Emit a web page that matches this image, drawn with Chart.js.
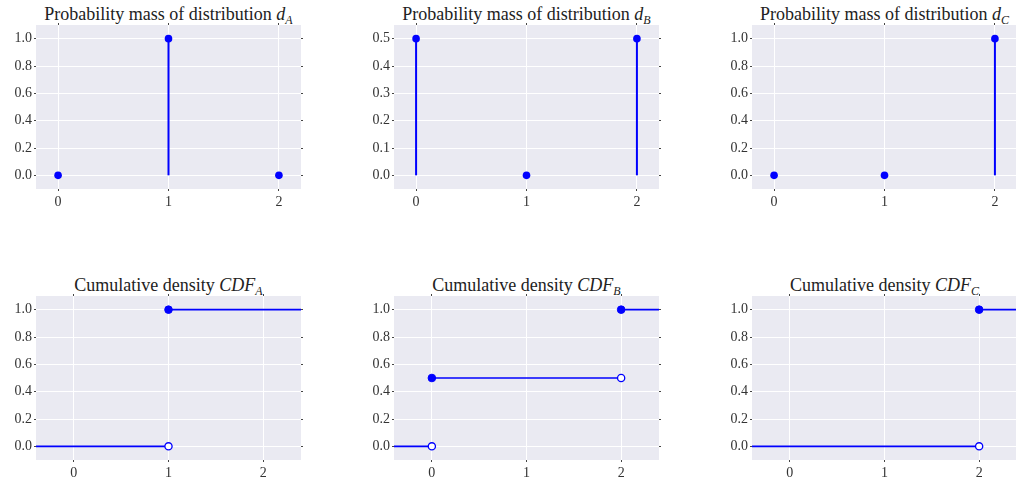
<!DOCTYPE html>
<html>
<head>
<meta charset="utf-8">
<script src="https://cdn.jsdelivr.net/npm/chart.js@4.4.1/dist/chart.umd.min.js"></script>
<style>
  html, body { margin: 0; padding: 0; background: #fff; overflow: hidden; }
  #page { position: relative; width: 1016px; height: 481px; }
  canvas { position: absolute; }
  .title {
    position: absolute; text-align: center; white-space: nowrap;
    font-family: 'Liberation Serif', serif; font-size: 18px; line-height: 20px; color: #222;
  }
  .title .m { font-style: italic; }
  .title sub { font-style: italic; font-size: 12px; vertical-align: -4px; line-height: 0; }
</style>
</head>
<body>
<div id="page"></div>
<script>
// --- dati ---
const outcomes = [0, 1, 2];
const distNames = ['A', 'B', 'C'];

const pmfA = [0, 1, 0];
const pmfB = [0.5, 0, 0.5];
const pmfC = [0, 0, 1];

const cdfA = [0, 1, 1];
const cdfB = [0.5, 0.5, 1];
const cdfC = [0, 0, 1];

const pmfTicksAC = [0, 0.2, 0.4, 0.6, 0.8, 1.0];
const pmfTicksB = [0, 0.1, 0.2, 0.3, 0.4, 0.5];
const cdfTicks = [0, 0.2, 0.4, 0.6, 0.8, 1.0];

const pmfs = [pmfA, pmfB, pmfC];
const cdfs = [cdfA, cdfB, cdfC];
const pmfTicks = [pmfTicksAC, pmfTicksB, pmfTicksAC];

// --- layout ---
const colLeft = [36, 394, 752];
const rowTop = [25, 296];
const plotW = 265, plotH = 164;
const axisL = 36, axisB = 22, axisT = 12, axisR = 8;
const BLUE = '#0000ff';
const page = document.getElementById('page');

const bgPlugin = {
  id: 'plotBg',
  beforeDraw(chart) {
    const { ctx, chartArea: a } = chart;
    ctx.save();
    ctx.fillStyle = '#eaeaf2';
    ctx.fillRect(a.left, a.top, a.right - a.left, a.bottom - a.top);
    ctx.restore();
  }
};

function makeScales(xMin, xMax, yTicks) {
  const span = yTicks[yTicks.length - 1] - yTicks[0];
  const yMin = yTicks[0] - span * 0.1, yMax = yTicks[yTicks.length - 1] + span * 0.1;
  const tickFont = { family: "'Liberation Serif', serif", size: 14 };
  const xTicks = s => { s.ticks = outcomes.map(v => ({ value: v })); };
  const yT = s => { s.ticks = yTicks.map(v => ({ value: v })); };
  return {
    x: {
      type: 'linear', min: xMin, max: xMax, afterBuildTicks: xTicks,
      afterFit: s => { s.height = axisB; },
      grid: { color: '#fff', lineWidth: 1, tickColor: '#444', tickLength: 2 },
      border: { display: false },
      ticks: { font: tickFont, color: '#333', padding: 3, callback: v => String(v), maxRotation: 0 }
    },
    x2: {
      type: 'linear', position: 'top', min: xMin, max: xMax, afterBuildTicks: xTicks,
      afterFit: s => { s.height = axisT; },
      grid: { drawOnChartArea: false, tickColor: '#444', tickLength: 2 },
      border: { display: false }, ticks: { display: false }
    },
    y: {
      type: 'linear', min: yMin, max: yMax, afterBuildTicks: yT,
      afterFit: s => { s.width = axisL; },
      grid: { color: '#fff', lineWidth: 1, tickColor: '#444', tickLength: 2 },
      border: { display: false },
      ticks: { font: tickFont, color: '#333', padding: 2, callback: v => v.toFixed(1) }
    },
    y2: {
      type: 'linear', position: 'right', min: yMin, max: yMax, afterBuildTicks: yT,
      afterFit: s => { s.width = axisR; },
      grid: { drawOnChartArea: false, tickColor: '#444', tickLength: 2 },
      border: { display: false }, ticks: { display: false }
    }
  };
}

function addPanel(col, row, titleHtml, datasets, scales) {
  const left = colLeft[col], top = rowTop[row];
  const t = document.createElement('div');
  t.className = 'title';
  t.style.left = left + 'px';
  t.style.width = plotW + 'px';
  t.style.top = (top - 21) + 'px';
  t.innerHTML = titleHtml;
  page.appendChild(t);

  const c = document.createElement('canvas');
  c.width = axisL + plotW + axisR;
  c.height = axisT + plotH + axisB;
  c.style.left = (left - axisL) + 'px';
  c.style.top = (top - axisT) + 'px';
  page.appendChild(c);

  new Chart(c, {
    type: 'scatter',
    data: { datasets },
    options: {
      responsive: false,
      animation: false,
      layout: { padding: 0 },
      plugins: { legend: { display: false }, tooltip: { enabled: false } },
      scales
    },
    plugins: [bgPlugin]
  });
}

// --- riga 1: massa di probabilità (stem) ---
pmfs.forEach((p, i) => {
  const ds = [{
    data: outcomes.map((x, k) => ({ x, y: p[k] })),
    pointRadius: 3.8, pointBackgroundColor: BLUE, pointBorderColor: BLUE, borderWidth: 0, order: 0
  }];
  outcomes.forEach((x, k) => {
    ds.push({
      type: 'line', data: [{ x, y: 0 }, { x, y: p[k] }],
      borderColor: BLUE, borderWidth: 2, pointRadius: 0, order: 1
    });
  });
  addPanel(i, 0,
    `Probability mass of distribution <span class="m">d</span><sub>${distNames[i]}</sub>`,
    ds, makeScales(-0.2, 2.2, pmfTicks[i]));
});

// --- riga 2: funzione di ripartizione (a gradini) ---
cdfs.forEach((cdf, i) => {
  const segs = [], filled = [], open = [];
  let prev = 0, startX = -1;
  outcomes.forEach((x, k) => {
    if (cdf[k] > prev) {
      segs.push([{ x: startX, y: prev }, { x, y: prev }]);
      open.push({ x, y: prev });
      filled.push({ x, y: cdf[k] });
      startX = x;
      prev = cdf[k];
    }
  });
  segs.push([{ x: startX, y: prev }, { x: 3, y: prev }]);

  const ds = [
    { data: open, pointRadius: 3.6, pointBackgroundColor: '#fff', pointBorderColor: BLUE, pointBorderWidth: 1.3, order: 0 },
    { data: filled, pointRadius: 3.8, pointBackgroundColor: BLUE, pointBorderColor: BLUE, order: 0 }
  ];
  segs.forEach(s => ds.push({
    type: 'line', data: s, borderColor: BLUE, borderWidth: 1.6, pointRadius: 0, order: 1
  }));
  addPanel(i, 1,
    `Cumulative density <span class="m">CDF</span><sub>${distNames[i]}</sub>`,
    ds, makeScales(-0.4, 2.4, cdfTicks));
});
</script>
</body>
</html>
